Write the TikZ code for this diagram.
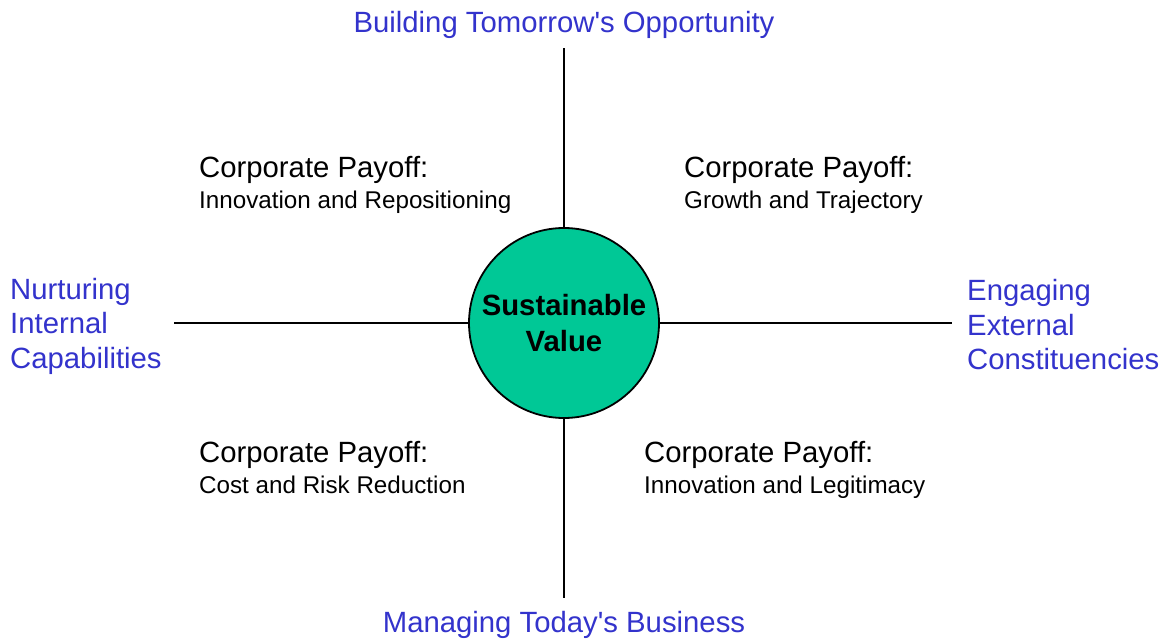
\documentclass[tikz,border=0pt]{standalone}
\usepackage{fontspec}
\setmainfont{Liberation Sans}
\definecolor{axisblue}{RGB}{51,51,204}
\definecolor{valuegreen}{RGB}{0,200,150}
\begin{document}
\begin{tikzpicture}[x=1pt,y=-1pt,
  axislabel/.style={text=axisblue,inner sep=0pt,font=\fontsize{29.3}{34.5}\selectfont},
  payoff/.style={inner sep=0pt,anchor=base west,align=left,font=\fontsize{29.3}{31}\selectfont},
  axisline/.style={line width=1.5pt,black},
  hub/.style={circle,draw=black,line width=1.8pt,fill=valuegreen,minimum size=190pt,inner sep=0pt,
    align=center,font=\bfseries\fontsize{29.3}{36}\selectfont}]
\useasboundingbox[fill=white] (0,0) rectangle (1167,639);

% central hub
\node[hub] (sv) at (564,323) {Sustainable\\Value};

% axis ends
\coordinate (topend) at (564,48);
\coordinate (botend) at (564,598);
\coordinate (leftend) at (174,323);
\coordinate (rightend) at (952,323);

\draw[axisline] (sv.north) -- (topend);
\draw[axisline] (sv.south) -- (botend);
\draw[axisline] (sv.west) -- (leftend);
\draw[axisline] (sv.east) -- (rightend);

% axis labels
\node[axislabel,anchor=base] (top) at (564,33) {Building Tomorrow\textquotesingle s Opportunity};
\node[axislabel,anchor=base] (bottom) at (564,632) {Managing Today\textquotesingle s Business};
\node[axislabel,anchor=west,align=left] (left) at (10,326) {Nurturing\\Internal\\Capabilities};
\node[axislabel,anchor=west,align=left] (right) at (967,325) {Engaging\\External\\Constituencies};

% quadrant payoffs (anchored on the baseline of the second line)
\node[payoff] (q1) at (199,208) {Corporate Payoff:\\{\fontsize{24.2}{31}\selectfont Innovation and Repositioning}};
\node[payoff] (q2) at (684,208) {Corporate Payoff:\\{\fontsize{24.2}{31}\selectfont Growth and Trajectory}};
\node[payoff] (q3) at (199,493) {Corporate Payoff:\\{\fontsize{24.2}{31}\selectfont Cost and Risk Reduction}};
\node[payoff] (q4) at (644,493) {Corporate Payoff:\\{\fontsize{24.2}{31}\selectfont Innovation and Legitimacy}};
\end{tikzpicture}
\end{document}
